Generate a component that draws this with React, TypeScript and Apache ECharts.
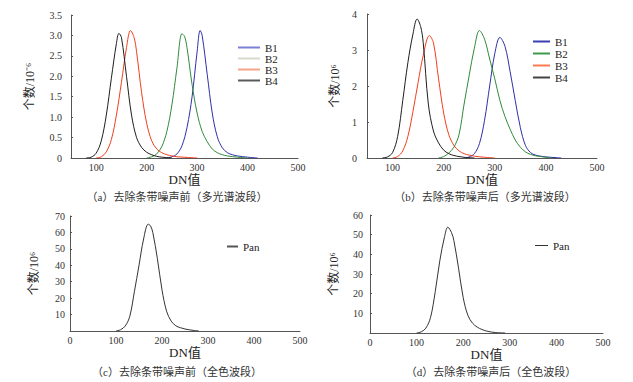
import React, { useEffect, useRef } from "react";
import * as echarts from "echarts";

// ---------- Data (DN value, count ×10^-6) ----------
// Panel (a): before destriping, multispectral
const aB1_dn = [240, 250, 260, 270, 280, 290, 300, 306, 310, 320, 330, 340, 350, 360, 370, 380, 400, 420];
const aB1_val = [0, 0.03, 0.1, 0.3, 0.75, 1.5, 2.6, 3.12, 3.0, 2.05, 1.1, 0.52, 0.25, 0.13, 0.08, 0.05, 0.02, 0];
const aB2_dn = [200, 210, 220, 230, 240, 250, 260, 270, 275, 280, 290, 300, 310, 320, 330, 340, 350, 360, 380, 400];
const aB2_val = [0, 0.03, 0.1, 0.28, 0.65, 1.3, 2.2, 3.04, 2.98, 2.7, 1.8, 1.1, 0.65, 0.4, 0.22, 0.13, 0.08, 0.05, 0.02, 0];
const aB3_dn = [100, 110, 120, 130, 140, 150, 160, 168, 175, 180, 190, 200, 210, 220, 230, 240, 250, 260, 280, 300];
const aB3_val = [0, 0.03, 0.15, 0.45, 1.05, 1.85, 2.7, 3.12, 2.95, 2.6, 1.6, 0.85, 0.42, 0.22, 0.13, 0.08, 0.05, 0.03, 0.015, 0];
const aB4_dn = [80, 90, 100, 110, 120, 130, 140, 145, 150, 160, 170, 180, 190, 200, 210, 220, 230, 240, 250];
const aB4_val = [0, 0.02, 0.12, 0.42, 1.05, 1.95, 2.8, 3.05, 2.95, 2.0, 1.05, 0.5, 0.26, 0.14, 0.08, 0.04, 0.02, 0.01, 0];

// Panel (b): after destriping, multispectral
const bB1_dn = [240, 250, 260, 270, 280, 290, 300, 310, 320, 330, 340, 350, 360, 370, 380, 390, 400, 420, 430];
const bB1_val = [0, 0.03, 0.12, 0.4, 1.05, 2.0, 2.9, 3.35, 3.1, 2.4, 1.6, 0.85, 0.35, 0.15, 0.08, 0.05, 0.03, 0.01, 0];
const bB2_dn = [190, 200, 210, 220, 230, 240, 250, 260, 270, 280, 290, 300, 310, 320, 330, 340, 350, 360, 370, 380, 390, 400, 410];
const bB2_val = [0, 0.04, 0.14, 0.3, 0.65, 1.5, 2.3, 3.05, 3.54, 3.3, 2.75, 2.2, 1.6, 1.15, 0.8, 0.5, 0.3, 0.17, 0.1, 0.06, 0.04, 0.02, 0];
const bB3_dn = [100, 110, 120, 130, 140, 150, 160, 172, 180, 190, 200, 210, 220, 230, 240, 250, 260, 280, 300];
const bB3_val = [0, 0.04, 0.2, 0.6, 1.3, 2.1, 2.85, 3.4, 3.2, 2.2, 1.25, 0.65, 0.35, 0.2, 0.12, 0.08, 0.05, 0.02, 0];
const bB4_dn = [80, 90, 100, 110, 120, 130, 140, 148, 155, 160, 170, 180, 190, 200, 210, 220, 230, 240, 260];
const bB4_val = [0, 0.03, 0.15, 0.6, 1.6, 2.65, 3.45, 3.86, 3.65, 3.2, 1.5, 0.75, 0.42, 0.22, 0.12, 0.07, 0.04, 0.02, 0];

// Panel (c): before destriping, panchromatic
const cPan_dn = [100, 110, 120, 130, 140, 150, 160, 170, 175, 180, 190, 200, 210, 220, 230, 240, 250, 260, 270, 280];
const cPan_val = [0, 0.8, 3, 9, 24, 40, 56, 65, 64, 60, 44, 25, 12, 6, 3.2, 2, 1.2, 0.7, 0.3, 0];

// Panel (d): after destriping, panchromatic
const dPan_dn = [100, 110, 120, 130, 140, 150, 160, 167, 175, 180, 190, 200, 210, 220, 230, 240, 250, 260, 270, 290];
const dPan_val = [0, 0.6, 2.5, 8, 21, 37, 49, 53.8, 51, 47, 33, 18, 9, 5, 3, 1.8, 1, 0.5, 0.2, 0];

// Tick / label text
const captions = [
  "（a）去除条带噪声前（多光谱波段）",
  "（b）去除条带噪声后（多光谱波段）",
  "（c）去除条带噪声前（全色波段）",
  "（d）去除条带噪声后（全色波段）",
];
const xName = "DN值";
const yNameA = "个数/10⁻⁶";
const yNameB = "个数/10⁶";

const COLORS = { B1: "#2f2fa8", B2: "#2f8a3c", B3: "#f03e1e", B4: "#1e1e1e", Pan: "#333333" };

const pairs = (xs: number[], ys: number[]) => xs.map((x, i) => [x, ys[i]]);

const NUM_FONT = "'Liberation Serif', 'Times New Roman', serif";
const CJK_FONT = "'Liberation Serif', 'Noto Sans CJK SC', serif";

export default function App() {
  const ref = useRef<HTMLDivElement>(null);
  useEffect(() => {
    if (!ref.current) return;
    const chart = echarts.init(ref.current, undefined, { renderer: "svg" });

    const axisLine = { lineStyle: { color: "#555", width: 1 } };
    const labelStyle = { color: "#333", fontSize: 10, fontFamily: NUM_FONT };

    const mkX = (gi: number, min: number, showZero: boolean) => ({
      type: "value",
      gridIndex: gi,
      min,
      max: 500,
      interval: 50,
      axisLine,
      axisTick: { show: false },
      splitLine: { show: false },
      axisLabel: {
        ...labelStyle,
        margin: 4,
        formatter: (v: number) => (v % 100 === 0 && (v !== 0 || showZero) ? String(v) : ""),
      },
      name: xName,
      nameLocation: "middle",
      nameGap: 11,
      nameTextStyle: { color: "#222", fontSize: 13, fontFamily: CJK_FONT },
    });

    const mkY = (gi: number, max: number, interval: number, fmt: (v: number) => string, name: string, nameGap: number, margin: number) => ({
      type: "value",
      gridIndex: gi,
      min: 0,
      max,
      interval,
      axisLine: { show: true, ...axisLine },
      axisTick: { show: true, inside: true, length: 2, lineStyle: { color: "#555" } },
      splitLine: { show: false },
      axisLabel: { ...labelStyle, margin, formatter: fmt },
      name,
      nameLocation: "middle",
      nameGap,
      nameRotate: 90,
      nameTextStyle: { color: "#222", fontSize: 12, fontFamily: CJK_FONT },
    });

    const line = (name: string, xi: number, dn: number[], val: number[], color: string) => ({
      name,
      type: "line",
      xAxisIndex: xi,
      yAxisIndex: xi,
      data: pairs(dn, val),
      smooth: 0.35,
      symbol: "none",
      lineStyle: { color, width: 1 },
      itemStyle: { color },
    });

    const legendText = { color: "#222", fontSize: 11, fontFamily: NUM_FONT, lineHeight: 11 };

    chart.setOption({
      animation: false,
      backgroundColor: "#ffffff",
      grid: [
        { left: 71, top: 15, width: 227, height: 143 },
        { left: 367, top: 14, width: 230, height: 144 },
        { left: 70, top: 216, width: 230, height: 115 },
        { left: 370, top: 215, width: 233, height: 118 },
      ],
      xAxis: [mkX(0, 50, false), mkX(1, 50, false), mkX(2, 0, true), mkX(3, 0, true)],
      yAxis: [
        mkY(0, 3.5, 0.5, (v) => (v === 0 ? "0" : v.toFixed(1)), yNameA, 35, 9),
        mkY(1, 4, 1, (v) => String(v), yNameB, 26, 10),
        mkY(2, 70, 10, (v) => (v === 0 ? "" : String(v)), yNameB, 30, 5),
        mkY(3, 60, 10, (v) => (v === 0 ? "" : String(v)), yNameB, 30, 7),
      ],
      legend: [
        {
          orient: "vertical",
          left: 233,
          top: 37,
          itemWidth: 22,
          itemHeight: 2,
          itemGap: 0,
          icon: "rect",
          textStyle: legendText,
          data: [
            { name: "B1", itemStyle: { color: "#7c80d2" } },
            { name: "B2", itemStyle: { color: "#d6dacd" } },
            { name: "B3", itemStyle: { color: "#f4a587" } },
            { name: "B4", itemStyle: { color: "#5a5a5a" } },
          ],
          selectedMode: false,
        },
        {
          orient: "vertical",
          left: 528,
          top: 31,
          itemWidth: 17,
          itemHeight: 2,
          itemGap: 1,
          icon: "rect",
          textStyle: legendText,
          data: [
            { name: "B1", itemStyle: { color: "#3a3fb2" } },
            { name: "B2", itemStyle: { color: "#3c9a4c" } },
            { name: "B3", itemStyle: { color: "#ff7a50" } },
            { name: "B4", itemStyle: { color: "#444444" } },
          ],
          selectedMode: false,
        },
        {
          orient: "vertical",
          left: 222,
          top: 236,
          itemWidth: 11,
          itemHeight: 2,
          icon: "rect",
          textStyle: legendText,
          data: [{ name: "Pan", itemStyle: { color: "#555" } }],
          selectedMode: false,
        },
        {
          orient: "vertical",
          left: 530,
          top: 235,
          itemWidth: 13,
          itemHeight: 1,
          icon: "rect",
          textStyle: legendText,
          data: [{ name: "Pan", itemStyle: { color: "#333" } }],
          selectedMode: false,
        },
      ],
      series: [
        line("B1", 0, aB1_dn, aB1_val, COLORS.B1),
        line("B2", 0, aB2_dn, aB2_val, COLORS.B2),
        line("B3", 0, aB3_dn, aB3_val, COLORS.B3),
        line("B4", 0, aB4_dn, aB4_val, COLORS.B4),
        line("B1", 1, bB1_dn, bB1_val, COLORS.B1),
        line("B2", 1, bB2_dn, bB2_val, COLORS.B2),
        line("B3", 1, bB3_dn, bB3_val, COLORS.B3),
        line("B4", 1, bB4_dn, bB4_val, COLORS.B4),
        line("Pan", 2, cPan_dn, cPan_val, COLORS.Pan),
        line("Pan", 3, dPan_dn, dPan_val, COLORS.Pan),
      ],
      graphic: [
        { x: 177, y: 197, text: captions[0] },
        { x: 485, y: 197, text: captions[1] },
        { x: 177, y: 372, text: captions[2] },
        { x: 491, y: 372, text: captions[3] },
      ].map((c) => ({
        type: "text",
        x: c.x,
        y: c.y,
        style: {
          text: c.text,
          textAlign: "center",
          textVerticalAlign: "middle",
          fill: "#333",
          fontSize: 11,
          fontFamily: CJK_FONT,
        },
      })),
    });
    return () => chart.dispose();
  }, []);
  return (
    <div
      ref={ref}
      style={{ position: "fixed", left: 0, top: 0, width: 633, height: 382, background: "#fff" }}
    />
  );
}
